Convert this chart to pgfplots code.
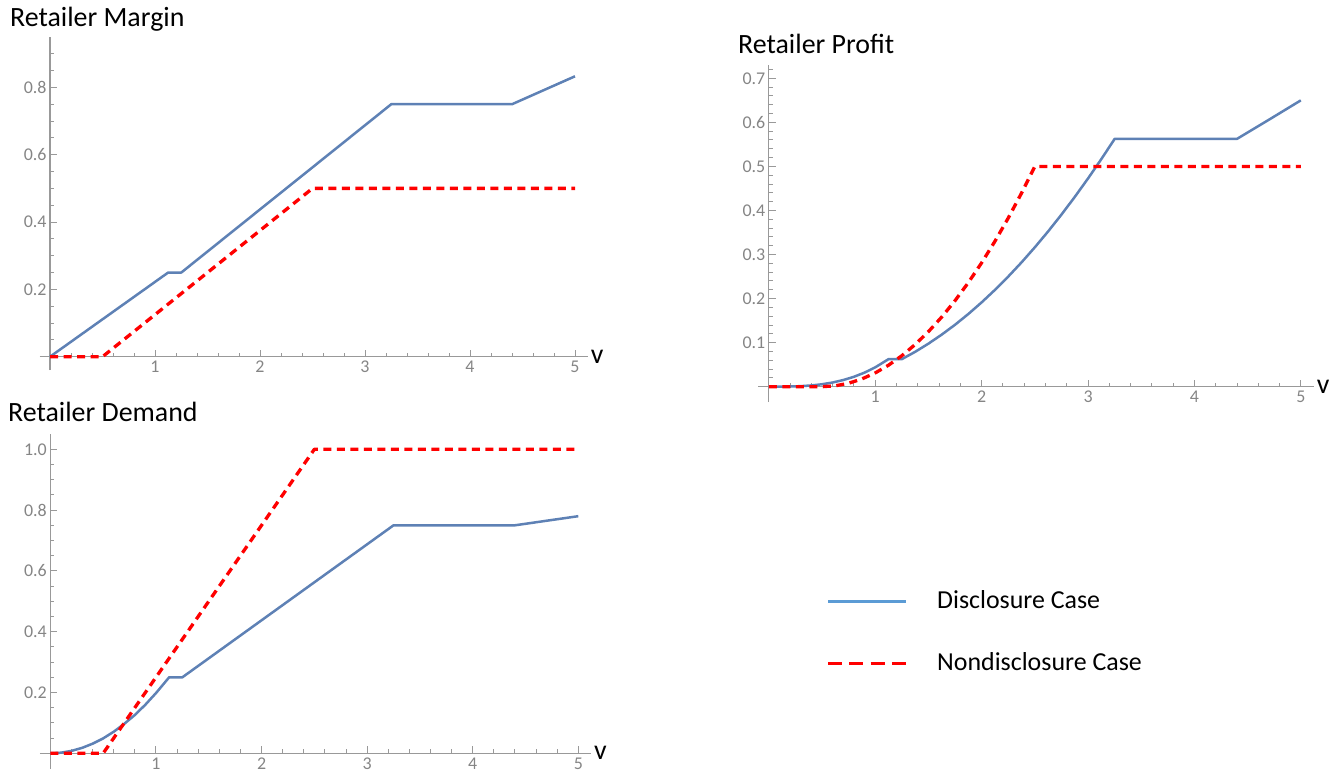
\documentclass[border=0pt]{standalone}
\usepackage{pgfplots}
\pgfplotsset{compat=1.18}
\usepackage{fontspec}
\setmainfont{Carlito}
\definecolor{mblue}{rgb}{0.368417,0.506779,0.709798}
\definecolor{lblue}{HTML}{5B9BD5}
\definecolor{axgray}{HTML}{999999}
\definecolor{tkgray}{HTML}{858585}
\pgfplotsset{mstyle/.style={
  scale only axis, axis lines=middle,
  axis line style={axgray, line width=1.2bp, -},
  xmin=-0.1, xmax=5.12,
  xtick={1,2,3,4,5}, minor xtick={0,0.2,...,5.01},
  tick align=inside, major tick length=7bp, minor tick length=4bp,
  every tick/.style={axgray, line width=1bp},
  tick label style={font=\fontsize{18}{18}\selectfont, text=tkgray},
  xticklabel style={yshift=-1bp},
  /pgf/number format/assume math mode=true,
  yticklabel style={/pgf/number format/fixed, /pgf/number format/fixed zerofill, /pgf/number format/precision=1},
  xlabel={v}, xlabel style={anchor=west, font=\fontsize{28}{28}\selectfont, inner sep=3bp},
  clip=false,
  line join=round,
}}
\tikzset{dcase/.style={mblue, line width=2.5bp}, ncase/.style={red, line width=3.3bp, dash pattern=on 8bp off 5.5bp}}
\begin{document}
\begin{tikzpicture}
\path[use as bounding box] (0,0) rectangle (1339bp,778bp);
% Retailer Margin
\begin{axis}[mstyle, at={(39.5bp,407.8bp)}, anchor=south west, width=548.1bp, height=333.3bp,
  ymin=-0.04, ymax=0.95, ytick={0.2,0.4,0.6,0.8}, minor ytick={0,0.05,...,0.91}]
\addplot[dcase] coordinates {(0,0) (1.125,0.25) (1.25,0.25) (3.25,0.75) (4.4,0.75) (5,0.833)};
\addplot[ncase] coordinates {(0,0) (0.5,0) (2.5,0.5) (5,0.5)};
\end{axis}
% Retailer Demand
\begin{axis}[mstyle, at={(39.8bp,9.5bp)}, anchor=south west, width=551.2bp, height=334.4bp,
  ymin=-0.05, ymax=1.05, ytick={0.2,0.4,0.6,0.8,1.0}, minor ytick={0,0.05,...,1.01}]
\addplot[dcase] coordinates {(0,0) (0.1,0.002) (0.2,0.0079) (0.3,0.0178) (0.4,0.0316) (0.5,0.049) (0.6,0.071) (0.7,0.097) (0.8,0.126) (0.9,0.16) (1.0,0.198) (1.125,0.25) (1.25,0.25) (3.25,0.75) (4.4,0.75) (5,0.78)};
\addplot[ncase] coordinates {(0,0) (0.5,0) (2.5,1) (5,1)};
\end{axis}
% Retailer Profit
\begin{axis}[mstyle, at={(758.2bp,375.9bp)}, anchor=south west, width=555.4bp, height=337bp,
  ymin=-0.035, ymax=0.73, ytick={0.1,0.2,0.3,0.4,0.5,0.6,0.7}, minor ytick={0,0.02,...,0.721}]
\addplot[dcase] coordinates {(0,0) (0.1,0.00004) (0.2,0.00035) (0.3,0.0012) (0.4,0.0028) (0.5,0.0055) (0.6,0.0095) (0.7,0.0151) (0.8,0.0225) (0.9,0.032) (1.0,0.0439) (1.125,0.0625) (1.25,0.0625) (1.375,0.0791) (1.5,0.0977) (1.625,0.1182) (1.75,0.1406) (1.875,0.1650) (2.0,0.1914) (2.125,0.2197) (2.25,0.25) (2.375,0.2822) (2.5,0.3164) (2.625,0.3525) (2.75,0.3906) (2.875,0.4307) (3.0,0.4727) (3.125,0.5166) (3.25,0.5625) (4.4,0.5625) (4.7,0.606) (5,0.65)};
\addplot[ncase] coordinates {(0,0) (0.5,0) (0.625,0.00195) (0.75,0.0078) (0.875,0.0176) (1.0,0.03125) (1.125,0.0488) (1.25,0.0703) (1.375,0.0957) (1.5,0.125) (1.625,0.1582) (1.75,0.1953) (1.875,0.2363) (2.0,0.28125) (2.125,0.3301) (2.25,0.3828) (2.375,0.4395) (2.5,0.5) (5,0.5)};
\end{axis}
% titles
\node[anchor=base west, inner sep=0, font=\fontsize{28}{28}\selectfont] at (10bp,751bp) {Retailer Margin};
\node[anchor=base west, inner sep=0, font=\fontsize{28}{28}\selectfont] at (738bp,724bp) {Retailer Profit};
\node[anchor=base west, inner sep=0, font=\fontsize{28}{28}\selectfont] at (8bp,356bp) {Retailer Demand};
% legend
\draw[lblue, line width=3bp] (828bp,176bp) -- (906bp,176bp);
\draw[red, line width=3bp, dash pattern=on 14bp off 7.3bp] (828bp,114bp) -- (906bp,114bp);
\node[anchor=west, inner sep=0, font=\fontsize{26}{26}\selectfont] at (937bp,178bp) {Disclosure Case};
\node[anchor=west, inner sep=0, font=\fontsize{26}{26}\selectfont] at (937bp,116bp) {Nondisclosure Case};
\end{tikzpicture}
\end{document}
